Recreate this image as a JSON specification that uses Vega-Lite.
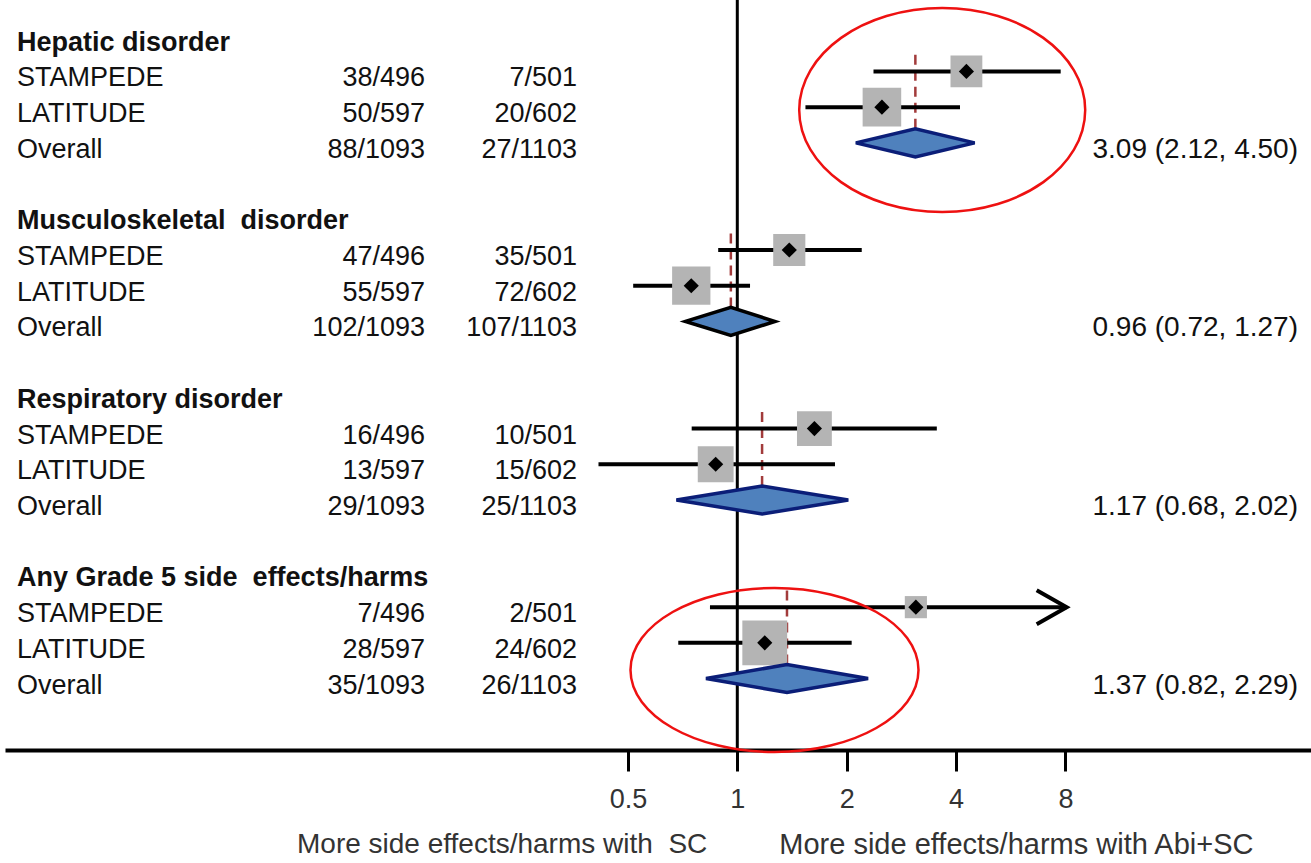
{
  "$schema": "https://vega.github.io/schema/vega-lite/v6.json",
  "width": 1306,
  "height": 750,
  "autosize": {"type": "none"},
  "padding": {"left": 5, "top": 0, "right": 0, "bottom": 113},
  "background": "white",
  "config": {
    "view": {"stroke": null},
    "text": {"font": "Liberation Sans"},
    "axisX": {
      "domainColor": "#000000",
      "domainWidth": 4,
      "tickColor": "#000000",
      "tickWidth": 3,
      "tickSize": 21,
      "labelFont": "Liberation Sans",
      "labelFontSize": 27,
      "labelColor": "#333333",
      "labelPadding": 15,
      "labelFlush": false,
      "grid": false
    }
  },
  "data": {
    "values": [
      {"outcome": "Hepatic disorder", "row": 0, "type": "header", "label": "Hepatic disorder"},
      {"outcome": "Hepatic disorder", "row": 1, "type": "study", "label": "STAMPEDE", "sc": "38/496", "abi": "7/501", "est": 4.27, "lo": 2.37, "hi": 7.76, "weight": 40.5, "arrow": false},
      {"outcome": "Hepatic disorder", "row": 2, "type": "study", "label": "LATITUDE", "sc": "50/597", "abi": "20/602", "est": 2.5, "lo": 1.54, "hi": 4.1, "weight": 59.5, "arrow": false},
      {"outcome": "Hepatic disorder", "row": 3, "type": "overall", "label": "Overall", "sc": "88/1093", "abi": "27/1103", "est": 3.09, "lo": 2.12, "hi": 4.5, "ci": "3.09 (2.12, 4.50)"},
      {"outcome": "Musculoskeletal disorder", "row": 5, "type": "header", "label": "Musculoskeletal\u00a0 disorder"},
      {"outcome": "Musculoskeletal disorder", "row": 6, "type": "study", "label": "STAMPEDE", "sc": "47/496", "abi": "35/501", "est": 1.39, "lo": 0.886, "hi": 2.2, "weight": 41.3, "arrow": false},
      {"outcome": "Musculoskeletal disorder", "row": 7, "type": "study", "label": "LATITUDE", "sc": "55/597", "abi": "72/602", "est": 0.747, "lo": 0.517, "hi": 1.084, "weight": 58.7, "arrow": false},
      {"outcome": "Musculoskeletal disorder", "row": 8, "type": "overall", "label": "Overall", "sc": "102/1093", "abi": "107/1103", "est": 0.96, "lo": 0.72, "hi": 1.27, "ci": "0.96 (0.72, 1.27)"},
      {"outcome": "Respiratory disorder", "row": 10, "type": "header", "label": "Respiratory disorder"},
      {"outcome": "Respiratory disorder", "row": 11, "type": "study", "label": "STAMPEDE", "sc": "16/496", "abi": "10/501", "est": 1.63, "lo": 0.749, "hi": 3.54, "weight": 48.6, "arrow": false},
      {"outcome": "Respiratory disorder", "row": 12, "type": "study", "label": "LATITUDE", "sc": "13/597", "abi": "15/602", "est": 0.872, "lo": 0.415, "hi": 1.857, "weight": 51.4, "arrow": false},
      {"outcome": "Respiratory disorder", "row": 13, "type": "overall", "label": "Overall", "sc": "29/1093", "abi": "25/1103", "est": 1.17, "lo": 0.68, "hi": 2.02, "ci": "1.17 (0.68, 2.02)"},
      {"outcome": "Any Grade 5 side effects/harms", "row": 15, "type": "header", "label": "Any Grade 5 side\u00a0 effects/harms"},
      {"outcome": "Any Grade 5 side effects/harms", "row": 16, "type": "study", "label": "STAMPEDE", "sc": "7/496", "abi": "2/501", "est": 3.1, "lo": 0.841, "hi": 8.06, "weight": 19.6, "arrow": true},
      {"outcome": "Any Grade 5 side effects/harms", "row": 17, "type": "study", "label": "LATITUDE", "sc": "28/597", "abi": "24/602", "est": 1.19, "lo": 0.688, "hi": 2.064, "weight": 80.4, "arrow": false},
      {"outcome": "Any Grade 5 side effects/harms", "row": 18, "type": "overall", "label": "Overall", "sc": "35/1093", "abi": "26/1103", "est": 1.37, "lo": 0.82, "hi": 2.29, "ci": "1.37 (0.82, 2.29)"}
    ]
  },
  "encoding": {
    "y": {"field": "row", "type": "quantitative", "scale": {"domain": [-1, 20], "reverse": true, "nice": false, "zero": false}, "axis": null}
  },
  "layer": [
    {
      "transform": [{"filter": "datum.row === 0"}],
      "mark": {"type": "rule", "color": "#000000", "strokeWidth": 3},
      "encoding": {
        "x": {"datum": 1, "type": "quantitative", "title": null, "scale": {"type": "log", "base": 2, "domain": [0.0096597, 37.8986], "nice": false, "zero": false}, "axis": {"values": [0.5, 1, 2, 4, 8], "format": "~g"}},
        "y": null
      }
    },
    {
      "transform": [{"filter": "datum.type === 'overall'"}],
      "mark": {"type": "rule", "color": "#a23b3b", "strokeWidth": 2.5, "strokeDash": [10, 6], "yOffset": -88, "y2Offset": -14},
      "encoding": {
        "x": {"field": "est", "type": "quantitative", "title": null, "scale": {"type": "log", "base": 2, "domain": [0.0096597, 37.8986], "nice": false, "zero": false}, "axis": {"values": [0.5, 1, 2, 4, 8], "format": "~g"}},
        "y2": {"field": "row"}
      }
    },
    {
      "transform": [{"filter": "datum.type === 'study'"}],
      "mark": {"type": "rule", "color": "#000000", "strokeWidth": 4},
      "encoding": {
        "x": {"field": "lo", "type": "quantitative", "title": null, "scale": {"type": "log", "base": 2, "domain": [0.0096597, 37.8986], "nice": false, "zero": false}, "axis": {"values": [0.5, 1, 2, 4, 8], "format": "~g"}},
        "x2": {"field": "hi"}
      }
    },
    {
      "transform": [{"filter": "datum.arrow === true"}],
      "mark": {"type": "point", "shape": "M-30,-17L0,0L-30,17", "size": 4, "filled": false, "stroke": "#000000", "strokeWidth": 4, "opacity": 1},
      "encoding": {
        "x": {"field": "hi", "type": "quantitative", "title": null, "scale": {"type": "log", "base": 2, "domain": [0.0096597, 37.8986], "nice": false, "zero": false}, "axis": {"values": [0.5, 1, 2, 4, 8], "format": "~g"}}
      }
    },
    {
      "transform": [{"filter": "datum.type === 'study'"}],
      "mark": {"type": "point", "shape": "square", "filled": true, "color": "#b4b4b4", "opacity": 1},
      "encoding": {
        "x": {"field": "est", "type": "quantitative", "title": null, "scale": {"type": "log", "base": 2, "domain": [0.0096597, 37.8986], "nice": false, "zero": false}, "axis": {"values": [0.5, 1, 2, 4, 8], "format": "~g"}},
        "size": {"field": "weight", "type": "quantitative", "scale": {"type": "linear", "domain": [0, 100], "range": [0, 2500], "zero": true}, "legend": null}
      }
    },
    {
      "transform": [{"filter": "datum.type === 'study'"}],
      "mark": {"type": "point", "shape": "diamond", "filled": true, "color": "#000000", "size": 230, "opacity": 1},
      "encoding": {
        "x": {"field": "est", "type": "quantitative", "title": null, "scale": {"type": "log", "base": 2, "domain": [0.0096597, 37.8986], "nice": false, "zero": false}, "axis": {"values": [0.5, 1, 2, 4, 8], "format": "~g"}}
      }
    },
    {
      "transform": [{"filter": "datum.type === 'overall'"}],
      "mark": {"type": "point", "filled": true, "fill": "#4f81bd", "size": 4, "strokeWidth": 3.5, "strokeJoin": "miter", "opacity": 1},
      "encoding": {
        "x": {"field": "est", "type": "quantitative", "title": null, "scale": {"type": "log", "base": 2, "domain": [0.0096597, 37.8986], "nice": false, "zero": false}, "axis": {"values": [0.5, 1, 2, 4, 8], "format": "~g"}},
        "shape": {"field": "outcome", "type": "nominal", "legend": null, "scale": {"domain": ["Hepatic disorder", "Musculoskeletal disorder", "Respiratory disorder", "Any Grade 5 side effects/harms"], "range": ["M-59.5,0L0,-14L59.3,0L0,14Z", "M-45.4,0L0,-14L44.1,0L0,14Z", "M-85.7,0L0,-14L86.2,0L0,14Z", "M-81,0L0,-14L81.1,0L0,14Z"]}},
        "stroke": {"field": "outcome", "type": "nominal", "legend": null, "scale": {"domain": ["Hepatic disorder", "Musculoskeletal disorder", "Respiratory disorder", "Any Grade 5 side effects/harms"], "range": ["#0b1e78", "#000000", "#0b1e78", "#0b1e78"]}}
      }
    },
    {
      "transform": [{"filter": "datum.type === 'header'"}],
      "mark": {"type": "text", "align": "left", "baseline": "middle", "dy": 7, "fontSize": 27, "fontWeight": "bold", "color": "#111111"},
      "encoding": {
        "x": {"datum": 0.010424, "type": "quantitative", "title": null, "scale": {"type": "log", "base": 2, "domain": [0.0096597, 37.8986], "nice": false, "zero": false}, "axis": {"values": [0.5, 1, 2, 4, 8], "format": "~g"}},
        "text": {"field": "label"}
      }
    },
    {
      "transform": [{"filter": "datum.type !== 'header'"}],
      "mark": {"type": "text", "align": "left", "baseline": "middle", "dy": 7, "fontSize": 27, "color": "#111111"},
      "encoding": {
        "x": {"datum": 0.010424, "type": "quantitative", "title": null, "scale": {"type": "log", "base": 2, "domain": [0.0096597, 37.8986], "nice": false, "zero": false}, "axis": {"values": [0.5, 1, 2, 4, 8], "format": "~g"}},
        "text": {"field": "label"}
      }
    },
    {
      "transform": [{"filter": "isValid(datum.sc)"}],
      "mark": {"type": "text", "align": "right", "baseline": "middle", "dy": 7, "fontSize": 27, "color": "#111111"},
      "encoding": {
        "x": {"datum": 0.13824, "type": "quantitative", "title": null, "scale": {"type": "log", "base": 2, "domain": [0.0096597, 37.8986], "nice": false, "zero": false}, "axis": {"values": [0.5, 1, 2, 4, 8], "format": "~g"}},
        "text": {"field": "sc"}
      }
    },
    {
      "transform": [{"filter": "isValid(datum.abi)"}],
      "mark": {"type": "text", "align": "right", "baseline": "middle", "dy": 7, "fontSize": 27, "color": "#111111"},
      "encoding": {
        "x": {"datum": 0.36215, "type": "quantitative", "title": null, "scale": {"type": "log", "base": 2, "domain": [0.0096597, 37.8986], "nice": false, "zero": false}, "axis": {"values": [0.5, 1, 2, 4, 8], "format": "~g"}},
        "text": {"field": "abi"}
      }
    },
    {
      "transform": [{"filter": "isValid(datum.ci)"}],
      "mark": {"type": "text", "align": "right", "baseline": "middle", "dy": 7, "fontSize": 28, "color": "#111111"},
      "encoding": {
        "x": {"datum": 34.9, "type": "quantitative", "title": null, "scale": {"type": "log", "base": 2, "domain": [0.0096597, 37.8986], "nice": false, "zero": false}, "axis": {"values": [0.5, 1, 2, 4, 8], "format": "~g"}},
        "text": {"field": "ci"}
      }
    },
    {
      "transform": [{"filter": "datum.row === 0"}],
      "mark": {"type": "text", "align": "right", "baseline": "middle", "dx": -30, "fontSize": 28, "color": "#333333"},
      "encoding": {
        "x": {"datum": 1, "type": "quantitative", "title": null, "scale": {"type": "log", "base": 2, "domain": [0.0096597, 37.8986], "nice": false, "zero": false}, "axis": {"values": [0.5, 1, 2, 4, 8], "format": "~g"}},
        "y": {"datum": 22.66, "type": "quantitative"},
        "text": {"value": "More side effects/harms with\u00a0 SC"}
      }
    },
    {
      "transform": [{"filter": "datum.row === 0"}],
      "mark": {"type": "text", "align": "left", "baseline": "middle", "dx": 42, "fontSize": 29, "color": "#333333"},
      "encoding": {
        "x": {"datum": 1, "type": "quantitative", "title": null, "scale": {"type": "log", "base": 2, "domain": [0.0096597, 37.8986], "nice": false, "zero": false}, "axis": {"values": [0.5, 1, 2, 4, 8], "format": "~g"}},
        "y": {"datum": 22.66, "type": "quantitative"},
        "text": {"value": "More side effects/harms with Abi+SC"}
      }
    },
    {
      "transform": [{"filter": "datum.row === 0"}],
      "mark": {"type": "point", "shape": "M-143,0A143,102 0 1,0 143,0A143,102 0 1,0 -143,0Z", "size": 4, "filled": false, "stroke": "#ee1111", "strokeWidth": 2.5, "opacity": 1},
      "encoding": {
        "x": {"datum": 3.663, "type": "quantitative", "title": null, "scale": {"type": "log", "base": 2, "domain": [0.0096597, 37.8986], "nice": false, "zero": false}, "axis": {"values": [0.5, 1, 2, 4, 8], "format": "~g"}},
        "y": {"datum": 2.08, "type": "quantitative"}
      }
    },
    {
      "transform": [{"filter": "datum.row === 0"}],
      "mark": {"type": "point", "shape": "M-144,0A144,82 0 1,0 144,0A144,82 0 1,0 -144,0Z", "size": 4, "filled": false, "stroke": "#ee1111", "strokeWidth": 2.5, "opacity": 1},
      "encoding": {
        "x": {"datum": 1.2657, "type": "quantitative", "title": null, "scale": {"type": "log", "base": 2, "domain": [0.0096597, 37.8986], "nice": false, "zero": false}, "axis": {"values": [0.5, 1, 2, 4, 8], "format": "~g"}},
        "y": {"datum": 17.76, "type": "quantitative"}
      }
    }
  ]
}
